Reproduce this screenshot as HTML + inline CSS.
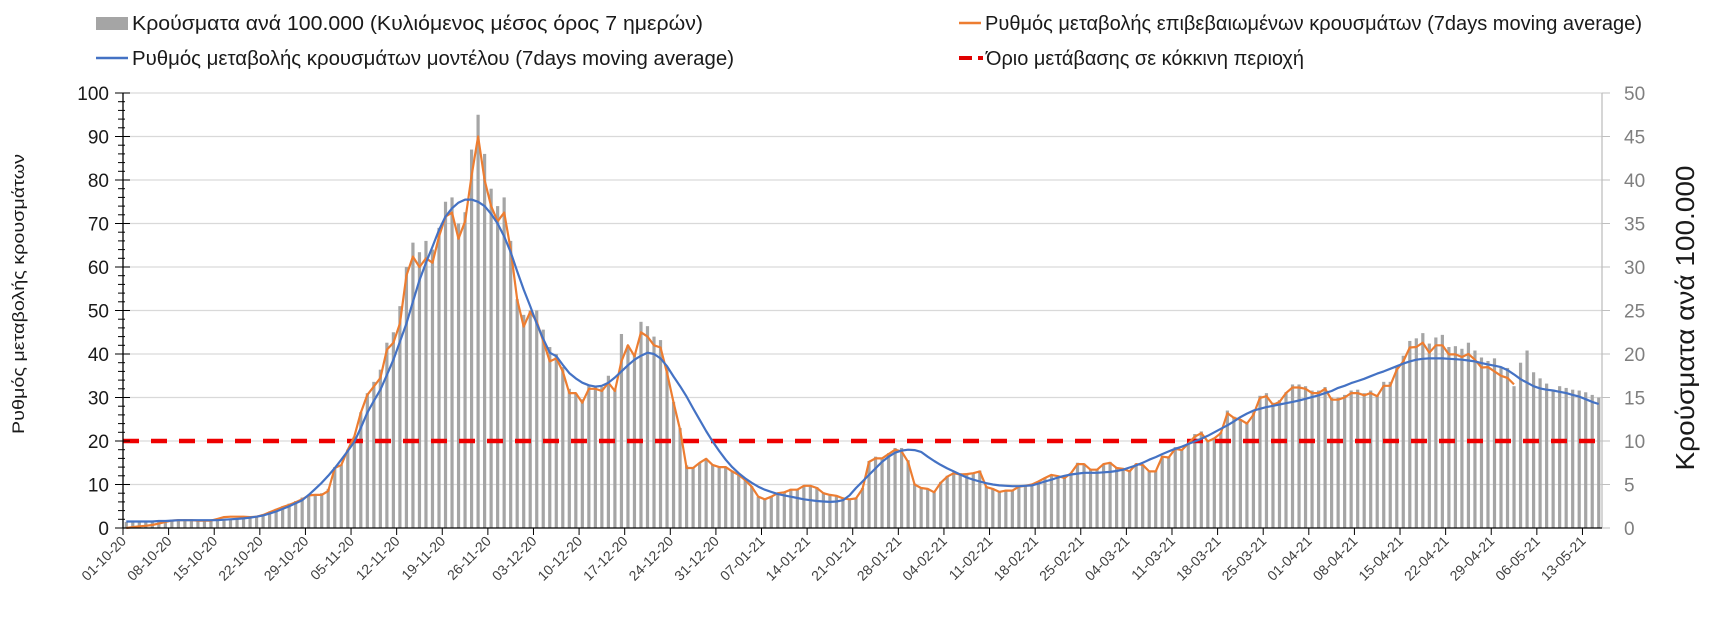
<!DOCTYPE html>
<html><head><meta charset="utf-8"><style>
html,body{margin:0;padding:0;background:#fff;}
svg{display:block;font-family:"Liberation Sans",sans-serif;}
</style></head><body>
<svg id="chart" width="1714" height="621" viewBox="0 0 1714 621" xmlns="http://www.w3.org/2000/svg">
<rect x="0" y="0" width="1714" height="621" fill="#fff"/>
<g>
<g>
<rect x="96" y="17" width="32" height="13" fill="#a5a5a5"/>
<text x="132" y="30" font-size="20" fill="#1a1a1a" textLength="571" lengthAdjust="spacingAndGlyphs">Κρούσματα ανά 100.000 (Κυλιόμενος μέσος όρος 7 ημερών)</text>
</g>
<g>
<line x1="96" y1="58" x2="128" y2="58" stroke="#4472c4" stroke-width="2.5"/>
<text x="132" y="65" font-size="20" fill="#1a1a1a" textLength="602" lengthAdjust="spacingAndGlyphs">Ρυθμός μεταβολής κρουσμάτων μοντέλου (7days moving average)</text>
</g>
<g>
<line x1="959" y1="23" x2="981" y2="23" stroke="#ed7d31" stroke-width="2.5"/>
<text x="985" y="30" font-size="20" fill="#1a1a1a" textLength="657" lengthAdjust="spacingAndGlyphs">Ρυθμός μεταβολής επιβεβαιωμένων κρουσμάτων (7days moving average)</text>
</g>
<g>
<line x1="959" y1="58" x2="972" y2="58" stroke="#e00000" stroke-width="4"/>
<line x1="978" y1="58" x2="983" y2="58" stroke="#e00000" stroke-width="4"/>
<text x="986" y="65" font-size="20" fill="#1a1a1a" textLength="318" lengthAdjust="spacingAndGlyphs">Όριο μετάβασης σε κόκκινη περιοχή</text>
</g>
</g>
<text transform="translate(24,294) rotate(-90)" text-anchor="middle" font-size="17" fill="#1a1a1a" textLength="280" lengthAdjust="spacingAndGlyphs">Ρυθμός μεταβολής κρουσμάτων</text>
<text transform="translate(1694,318) rotate(-90)" text-anchor="middle" font-size="26" fill="#1a1a1a" textLength="305" lengthAdjust="spacingAndGlyphs">Κρούσματα ανά 100.000</text>
<g id="grid"></g><g id="bars"></g><g id="lines"></g><g id="axes"></g>
</svg>
<script>
const dateLabels = ["01-10-20","08-10-20","15-10-20","22-10-20","29-10-20","05-11-20","12-11-20","19-11-20","26-11-20","03-12-20","10-12-20","17-12-20","24-12-20","31-12-20","07-01-21","14-01-21","21-01-21","28-01-21","04-02-21","11-02-21","18-02-21","25-02-21","04-03-21","11-03-21","18-03-21","25-03-21","01-04-21","08-04-21","15-04-21","22-04-21","29-04-21","06-05-21","13-05-21"];
const leftTicks = [0,10,20,30,40,50,60,70,80,90,100];
const rightTicks = [0,5,10,15,20,25,30,35,40,45,50];
const redThreshold = 20;
const casesPer100k = [
0.7,0.7,0.7,0.7,0.7,0.7,0.8, 0.9,1.0,1.0,1.0,0.9,0.9,0.9, 0.9,0.9,1.0,1.1,1.2,1.3,1.4,
1.6,1.9,2.2,2.5,2.8,3.1,3.5, 3.8,3.9,4.0,4.5,7.0,7.3,9.0, 10.5,13.3,15.5,16.8,18.2,21.3,22.5,
25.5,30.0,32.8,31.7,33.0,32.0,34.5, 37.5,38.0,35.0,36.3,43.5,47.5,43.0, 39.0,37.0,38.0,33.0,26.3,24.5,25.0,
25.0,22.8,20.8,20.0,18.5,16.0,15.5, 14.8,16.5,16.3,16.2,17.5,16.0,22.3, 21.0,20.0,23.7,23.2,22.0,21.6,18.5,
14.5,11.5,7.2,7.0,7.5,8.0,7.3, 7.0,7.0,6.6,6.2,5.6,4.8,3.6, 3.3,3.6,4.1,4.2,4.5,4.5,4.9,
4.9,4.7,4.1,3.8,3.7,3.5,3.3, 3.5,4.6,7.7,8.2,8.1,8.6,9.2, 9.2,7.8,5.1,4.6,4.5,4.1,5.3,
6.0,6.4,6.3,6.3,6.3,6.6,4.8, 4.5,4.2,4.3,4.3,4.8,4.9,5.0, 5.4,5.8,6.1,6.0,5.8,6.3,7.5,
7.4,6.8,6.8,7.4,7.6,7.0,6.9, 6.6,7.4,7.3,6.6,6.6,8.3,8.2, 9.3,9.0,9.8,10.8,11.1,10.1,10.4,
11.0,13.5,12.8,12.5,12.2,13.3,15.2, 15.5,14.4,14.7,15.6,16.5,16.5,16.3, 15.8,15.8,16.2,15.0,15.0,15.3,15.8,
15.9,15.5,15.8,15.3,16.8,16.8,18.6, 19.8,21.5,21.8,22.4,21.2,21.9,22.2, 20.8,20.9,20.6,21.3,20.4,19.6,19.2,
19.5,18.4,18.4,16.3,19.0,20.4,17.9, 17.2,16.6,15.9,16.3,16.1,15.9,15.8, 15.6,15.3,15.0];
const confirmedRate = [
0,0.2,0.4,0.5,0.7,1.0,1.4, 1.7,1.8,1.8,1.8,1.7,1.7,1.7, 2.1,2.5,2.6,2.6,2.6,2.5,2.6,
3.0,3.6,4.2,4.8,5.3,5.9,6.6, 7.5,7.6,7.6,8.5,13.8,14.5,18.0, 21,26.5,30.6,32.5,34.5,41,42.6,
47,58,62.4,60,62,61,67, 71.6,72.5,66.5,70.5,81,90,80, 74,70.5,72.5,64,52.5,46.3,49.7,
47.5,43,38.3,39,36,31,31, 28.8,32,32,31.5,33.4,31.5,38.3, 42,39.5,45,44,42,41.5,35.7,
28.8,22.6,13.8,13.8,15,15.9,14.5, 14,14,13,12.2,11,9.5,7.2, 6.6,7.2,8,8.2,8.8,8.8,9.7,
9.7,9.2,8,7.6,7.4,6.8,6.6, 6.8,9,15.2,16,16,17,18, 17.6,15.2,10,9.2,9,8.2,10.4,
11.8,12.6,12.3,12.4,12.6,13,9.4, 9.0,8.3,8.6,8.6,9.5,9.7,10.0, 10.7,11.5,12.2,11.9,11.5,12.6,14.7,
14.7,13.4,13.4,14.7,15,13.8,13.6, 13,14.7,14.5,13,13,16.4,16.2, 18.2,17.9,19.4,21,21.8,19.9,20.6,
21.8,26.4,25.3,24.9,24,26,29.9, 30.3,28.3,29,31,32.3,32.3,32, 31,31,32,29.5,29.5,30,31,
31,30.5,31,30.3,32.7,32.7,36.4, 38.3,41.5,41.6,42.6,40.3,42,42, 39.9,39.9,39.3,40,38.7,36.9,37,
36,35,34.5,33];
const modelRate = [
1.5,1.5,1.5,1.5,1.5,1.6,1.6, 1.7,1.8,1.8,1.8,1.8,1.8,1.8, 1.8,1.9,2.0,2.1,2.2,2.4,2.6,
2.9,3.3,3.8,4.4,5.0,5.7,6.4, 7.6,9.0,10.4,12.0,13.8,15.7,17.7, 19.8,23.0,26.5,29.2,31.8,35.2,38.7,
42.8,47,52,57,61,64.7,68.5, 71.6,73.5,74.8,75.5,75.5,75,74, 72.2,70,67,63.4,59,54.8,51,
47,43.5,40.3,39.5,37.5,35.6,34.4, 33.4,32.8,32.5,32.7,33.4,34.6,36, 37.4,38.7,39.6,40.3,40,39,37.2,
34.8,32.6,30.2,27.5,24.9,22.3,19.9, 17.7,15.7,14,12.6,11.4,10.4,9.5, 8.8,8.3,7.8,7.5,7.2,6.9,6.6,
6.4,6.2,6.1,6,6.1,6.4,7.5, 9.2,10.7,12.2,13.7,15.2,16.4,17.3, 17.8,18,17.9,17.5,16.4,15.4,14.5,
13.7,13,12.3,11.6,11.1,10.7,10.3, 10,9.8,9.7,9.6,9.6,9.7,9.8, 10.2,10.7,11.1,11.6,12.0,12.3,12.5,
12.7,12.7,12.7,12.8,12.9,13.1,13.4, 13.9,14.4,15,15.7,16.3,17,17.6, 18.2,18.7,19.3,19.9,20.5,21.2,22,
22.8,23.6,24.5,25.5,26.3,27,27.4, 27.8,28.1,28.4,28.7,29,29.3,29.7, 30.1,30.5,31,31.5,32.2,32.7,33.3,
33.8,34.3,34.9,35.5,36,36.6,37.2, 37.8,38.3,38.7,38.9,39,39,39, 38.9,38.8,38.7,38.5,38.3,37.9,37.6,
37.3,37,36.3,35.3,34.2,33.4,32.6, 32.1,31.8,31.6,31.3,31,30.6,30.2, 29.6,29,28.5];

const NS="http://www.w3.org/2000/svg";
const X0=123, X1=1602, Y0=528, Y1=93;
const nDays = casesPer100k.length;
const slot=(X1-X0)/nDays;
const xStart=i=>X0+i*slot;
const xMid=i=>X0+(i+0.5)*slot;
const yL=v=>Y0-(v/100)*(Y0-Y1);
const yR=v=>Y0-(v/50)*(Y0-Y1);
function mk(tag,attrs,parent){const e=document.createElementNS(NS,tag);for(const k in attrs)e.setAttribute(k,attrs[k]);parent.appendChild(e);return e;}
const grid=document.getElementById('grid'),bars=document.getElementById('bars'),lines=document.getElementById('lines'),axes=document.getElementById('axes');

leftTicks.forEach(t=>{
  if(t>0){const g=mk('line',{x1:X0,x2:X1,y1:yL(t),y2:yL(t),stroke:'#d9d9d9','stroke-width':1.3},grid);
  
  }
});
casesPer100k.forEach((v,i)=>{
  const b=mk('rect',{x:xMid(i)-1.6,y:yR(v),width:3.2,height:Y0-yR(v),fill:'#a5a5a5'},bars);
  
  
});
const th=mk('line',{x1:X0,x2:X1,y1:yL(redThreshold),y2:yL(redThreshold),stroke:'#ee0000','stroke-width':4.5,'stroke-dasharray':'16 12'},lines);


function pathOf(arr){return arr.map((v,i)=>(i?'L':'M')+xMid(i).toFixed(1)+' '+yL(v).toFixed(1)).join(' ');}
const po=mk('path',{d:pathOf(confirmedRate),fill:'none',stroke:'#ed7d31','stroke-width':2.2,'stroke-linejoin':'round'},lines);


const pb=mk('path',{d:pathOf(modelRate),fill:'none',stroke:'#4472c4','stroke-width':2.2,'stroke-linejoin':'round'},lines);



const la=mk('line',{x1:X0,x2:X0,y1:Y1,y2:Y0,stroke:'#000','stroke-width':1.3},axes);


for(let v=0;v<=100;v+=2){mk('line',{x1:(v%10===0)?X0-8:X0-5,x2:(v%10===0)?X0+7:X0+2,y1:yL(v),y2:yL(v),stroke:'#000','stroke-width':1},axes);}
leftTicks.forEach(t=>{
  const tx=mk('text',{x:X0-14,y:yL(t)+7,'text-anchor':'end','font-size':19,fill:'#1a1a1a'},axes);
  tx.textContent=t;
  
  
});
const ra=mk('line',{x1:X1,x2:X1,y1:Y1,y2:Y0,stroke:'#bfbfbf','stroke-width':1.3},axes);


rightTicks.forEach(t=>{
  mk('line',{x1:X1,x2:X1+8,y1:yR(t),y2:yR(t),stroke:'#bfbfbf','stroke-width':1},axes);
  const tx=mk('text',{x:X1+22,y:yR(t)+7,'font-size':19,fill:'#7f7f7f'},axes);
  tx.textContent=t;
  
  
});
const xa=mk('line',{x1:X0,x2:X1,y1:Y0,y2:Y0,stroke:'#000','stroke-width':1.3},axes);


dateLabels.forEach((d,k)=>{
  const x=xStart(k*7);
  mk('line',{x1:x,x2:x,y1:Y0,y2:Y0+7,stroke:'#000','stroke-width':1},axes);
  const tx=mk('text',{x:0,y:0,'text-anchor':'end','font-size':14,fill:'#404040',transform:'translate('+(x+4)+','+(Y0+14)+') rotate(-45)'},axes);
  tx.textContent=d;
  
  
});
</script>
</body></html>
